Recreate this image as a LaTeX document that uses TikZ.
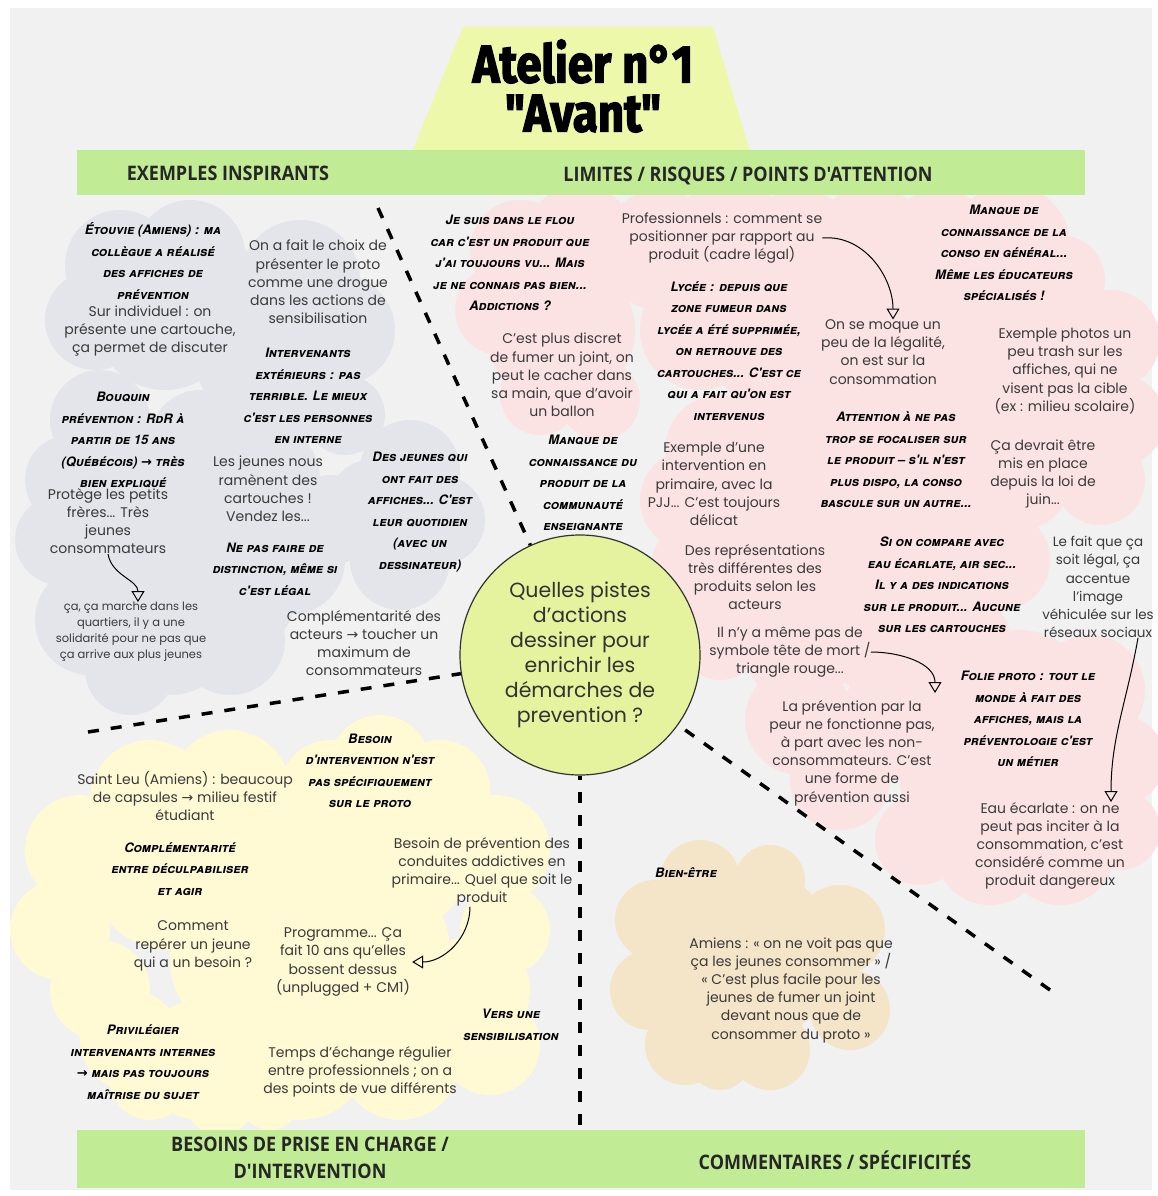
\documentclass[tikz,border=0pt]{standalone}
\usepackage{fontspec}
\setmainfont{Poppins}
\newfontfamily\handfont{TeX Gyre Heros}
\newfontfamily\bannerfont{Open Sans}[FakeStretch=0.9]
\newfontfamily\titlefont{Fira Sans}[FakeStretch=0.86,BoldFeatures={FakeBold=2.5}]
\newfontfamily\symfont{DejaVu Sans}
\newcommand{\rarr}{{\symfont\char"2192}}
\usetikzlibrary{arrows.meta}
\definecolor{pagegray}{HTML}{F1F1F1}
\definecolor{graycloud}{HTML}{E3E5EA}
\definecolor{pinkcloud}{HTML}{FCE3E3}
\definecolor{yellowcloud}{HTML}{FFF9D4}
\definecolor{beigecloud}{HTML}{F4E5C8}
\definecolor{bannergreen}{HTML}{C1EB95}
\definecolor{titleyellow}{HTML}{EEF8AA}
\definecolor{hubyellow}{HTML}{E6F39E}
\definecolor{notetext}{HTML}{3A3A3A}
\tikzset{
  note/.style={align=center, inner sep=0pt, text=notetext, font=\fontsize{14}{18.2}\selectfont},
  smallnote/.style={note, font=\fontsize{11.5}{16}\selectfont},
  handnote/.style={align=center, inner sep=0pt, text=black, font=\handfont\bfseries\itshape\scshape\fontsize{13}{21.5}\selectfont},
  bannertext/.style={align=center, inner sep=0pt, text=black!85, font=\bannerfont\bfseries\fontsize{20}{27}\selectfont},
  curvearrow/.style={-{Triangle[open,length=11pt,width=13pt]}, line width=1pt},
  divider/.style={line width=3.5pt, dash pattern=on 11pt off 12pt},
}
\begin{document}
\begin{tikzpicture}[x=1pt,y=-1pt]
  \useasboundingbox (0,0) rectangle (1158,1196);
  \fill[white] (0,0) rectangle (1158,1196);
  \fill[pagegray] (10,8) rectangle (1152,1190);% board
  % clouds
  \fill[graycloud] (120,265) circle (55) (190,255) circle (55) (95,320) circle (50) (165,320) circle (70) (240,300) circle (50)
    (300,280) circle (60) (340,330) circle (55) (300,380) circle (60) (250,360) circle (55) (345,415) circle (40)
    (100,420) circle (50) (70,480) circle (45) (130,480) circle (70) (200,440) circle (50) (60,540) circle (45) (140,560) circle (70)
    (260,480) circle (60) (220,540) circle (60) (290,560) circle (55) (330,520) circle (45)
    (410,470) circle (50) (440,520) circle (45) (400,560) circle (50) (370,500) circle (40)
    (90,620) circle (55) (170,630) circle (65) (230,640) circle (55) (130,670) circle (45) (250,600) circle (45);
  \fill[pinkcloud] (520,250) circle (50) (580,240) circle (55) (500,310) circle (45) (560,330) circle (75) (600,400) circle (40) (540,395) circle (40)
    (660,250) circle (60) (730,240) circle (60) (800,250) circle (60) (870,240) circle (55) (940,250) circle (60) (1010,245) circle (60) (1060,280) circle (45)
    (700,330) circle (60) (790,340) circle (80) (880,330) circle (70) (960,320) circle (70) (1040,340) circle (60) (1110,340) circle (50)
    (1120,420) circle (45) (1060,430) circle (70) (980,430) circle (70) (900,440) circle (70) (800,430) circle (60) (720,450) circle (55)
    (690,500) circle (50) (760,510) circle (50) (850,500) circle (60) (940,490) circle (60) (1020,480) circle (50) (1100,480) circle (45)
    (700,570) circle (50) (760,590) circle (60) (840,580) circle (60) (930,580) circle (70) (1000,560) circle (50)
    (720,640) circle (40) (800,650) circle (55) (880,640) circle (55) (960,640) circle (50)
    (800,720) circle (55) (840,780) circle (50) (900,720) circle (60) (950,690) circle (55) (1020,700) circle (70) (1090,690) circle (55)
    (1120,760) circle (45) (1060,780) circle (70) (960,780) circle (60) (920,840) circle (45) (990,850) circle (55) (1060,850) circle (55) (1120,830) circle (40);
  \fill[yellowcloud] (380,765) circle (50) (330,790) circle (50) (440,790) circle (50) (150,800) circle (60) (230,790) circle (60)
    (80,850) circle (55) (60,930) circle (50) (100,990) circle (50) (170,870) circle (80) (280,860) circle (80) (400,860) circle (70)
    (495,850) circle (55) (505,930) circle (45) (475,990) circle (55) (370,950) circle (80) (250,960) circle (80)
    (130,1040) circle (50) (200,1060) circle (60) (300,1050) circle (70) (400,1060) circle (60) (490,1045) circle (50)
    (150,1080) circle (40) (220,1100) circle (35) (270,1100) circle (30);
  \fill[beigecloud] (700,880) circle (40) (770,880) circle (35) (655,920) circle (40) (840,930) circle (45) (745,955) circle (90)
    (650,990) circle (40) (850,1010) circle (40) (685,1045) circle (40) (770,1050) circle (40) (720,1060) circle (30);
  % title and banners
  \fill[titleyellow] (463,27) -- (713,27) -- (750,152) -- (412,152) -- cycle;
  \node[align=center, inner sep=0pt, font=\titlefont\bfseries\fontsize{53}{49}\selectfont] (title) at (583,86) {Atelier n°1\\"Avant"};
  \fill[bannergreen] (77,150) rectangle (1085,195);% top banner
  \fill[bannergreen] (77,1130) rectangle (1085,1188);% bottom banner
  \node[bannertext] (exemples) at (228,173) {EXEMPLES INSPIRANTS};
  \node[bannertext] (limites) at (748,176) {LIMITES / RISQUES / POINTS D'ATTENTION};
  \node[bannertext] (besoins) at (310,1158) {BESOINS DE PRISE EN CHARGE /\\D'INTERVENTION};
  \node[bannertext] (commentaires) at (835,1160) {COMMENTAIRES / SPÉCIFICITÉS};
  % centre
  \node[circle, draw=black!80, line width=1.2pt, fill=hubyellow, minimum size=240pt, inner sep=0pt, align=center,
    text=black!80, font=\fontsize{20.5}{25}\selectfont] (hub) at (580,655)
    {Quelles pistes\\d'actions\\dessiner pour\\enrichir les\\démarches de\\prevention ?};
  \coordinate (topend) at (378,208);
  \coordinate (leftend) at (88,732);
  \coordinate (bottomend) at (580,1125);
  \coordinate (rightend) at (1050,990);
  \draw[divider] (topend) -- (hub);
  \draw[divider] (leftend) -- (hub);
  \draw[divider] (bottomend) -- (hub);
  \draw[divider] (rightend) -- (hub);
  % exemples inspirants
  \node[handnote] (etouvie) at (153,261) {Étouvie (Amiens) : ma\\collègue a réalisé\\des affiches de\\prévention};
  \node[note] (individuel) at (150,331) {Sur individuel : on\\présente une cartouche,\\ça permet de discuter};
  \node[note] (choix) at (318,282) {On a fait le choix de\\présenter le proto\\comme une drogue\\dans les actions de\\sensibilisation};
  \node[handnote] (intervenants) at (308,396) {Intervenants\\extérieurs : pas\\terrible. Le mieux\\c'est les personnes\\en interne};
  \node[handnote] (bouquin) at (123,440) {Bouquin\\prévention : RdR à\\partir de 15 ans\\(Québécois) \rarr{} très\\bien expliqué};
  \node[note] (petits) at (108,521) {Protège les petits\\frères... Très\\jeunes\\consommateurs};
  \node[note] (ramenent) at (268,489) {Les jeunes nous\\ramènent des\\cartouches !\\Vendez les...};
  \node[handnote] (affiches) at (420,512) {Des jeunes qui\\ont fait des\\affiches... C'est\\leur quotidien\\(avec un\\dessinateur)};
  \node[handnote] (distinction) at (275,569) {Ne pas faire de\\distinction, même si\\c'est légal};
  \node[smallnote] (quartiers) at (131,632) {ça, ça marche dans les\\quartiers, il y a une\\solidarité pour ne pas que\\ça arrive aux plus jeunes};
  \node[note] (complementarite) at (364,643) {Complémentarité des\\acteurs \rarr{} toucher un\\maximum de\\consommateurs};
  \draw[curvearrow] (petits.south) to[out=-80,in=90] ([xshift=7pt]quartiers.north);
  % limites / risques
  \node[handnote] (flou) at (510,263) {Je suis dans le flou\\car c'est un produit que\\j'ai toujours vu... Mais\\je ne connais pas bien...\\Addictions ?};
  \node[note] (professionnels) at (722,238) {Professionnels : comment se\\positionner par rapport au\\produit (cadre légal)};
  \node[handnote] (lycee) at (729,351) {Lycée : depuis que\\zone fumeur dans\\lycée a été supprimée,\\on retrouve des\\cartouches... C'est ce\\qui a fait qu'on est\\intervenus};
  \node[note] (discret) at (562,375) {C'est plus discret\\de fumer un joint, on\\peut le cacher dans\\sa main, que d'avoir\\un ballon};
  \node[handnote] (manqueprod) at (583,483) {Manque de\\connaissance du\\produit de la\\communauté\\enseignante};
  \node[note] (primaire) at (714,484) {Exemple d'une\\intervention en\\primaire, avec la\\PJJ... C'est toujours\\délicat};
  \node[handnote] (manqueconso) at (1004,253) {Manque de\\connaissance de la\\conso en général...\\Même les éducateurs\\spécialisés !};
  \node[note] (legalite) at (883,352) {On se moque un\\peu de la légalité,\\on est sur la\\consommation};
  \node[note] (photos) at (1065,371) {Exemple photos un\\peu trash sur les\\affiches, qui ne\\visent pas la cible\\(ex : milieu scolaire)};
  \node[handnote] (focaliser) at (896,460) {Attention à ne pas\\trop se focaliser sur\\le produit – s'il n'est\\plus dispo, la conso\\bascule sur un autre...};
  \node[note] (loi) at (1043,474) {Ça devrait être\\mis en place\\depuis la loi de\\juin...};
  \node[note] (representations) at (755,577) {Des représentations\\très différentes des\\produits selon les\\acteurs};
  \node[handnote] (compare) at (942,585) {Si on compare avec\\eau écarlate, air sec...\\Il y a des indications\\sur le produit... Aucune\\sur les cartouches};
  \node[note, font=\fontsize{13.5}{18.2}\selectfont] (legal) at (1098,587) {Le fait que ça\\soit légal, ça\\accentue\\l'image\\véhiculée sur les\\réseaux sociaux};
  \node[note] (symbole) at (790,652) {Il n'y a même pas de\\symbole tête de mort /\\triangle rouge...};
  \node[note] (peur) at (852,753) {La prévention par la\\peur ne fonctionne pas,\\à part avec les non-\\consommateurs. C'est\\une forme de\\prévention aussi};
  \node[handnote] (folie) at (1028,719) {Folie proto : tout le\\monde à fait des\\affiches, mais la\\préventologie c'est\\un métier};
  \node[note] (eau) at (1050,846) {Eau écarlate : on ne\\peut pas inciter à la\\consommation, c'est\\considéré comme un\\produit dangereux};
  \coordinate (symboletip) at (935,693);
  \draw[curvearrow] (professionnels.east) to[out=5,in=90] ([xshift=10pt]legalite.north);
  \draw[curvearrow] (symbole.east) to[out=0,in=90] (symboletip);
  \draw[curvearrow] ([xshift=40pt]legal.south) to[out=-100,in=90] ([xshift=61pt]eau.north);
  % besoins de prise en charge
  \node[handnote] (besoin) at (370,771) {Besoin\\d'intervention n'est\\pas spécifiquement\\sur le proto};
  \node[note] (saintleu) at (185,796) {Saint Leu (Amiens) : beaucoup\\de capsules \rarr{} milieu festif\\étudiant};
  \node[handnote] (deculp) at (180,869) {Complémentarité\\entre déculpabiliser\\et agir};
  \node[note] (besoinprev) at (482,872) {Besoin de prévention des\\conduites addictives en\\primaire... Quel que soit le\\produit};
  \node[note] (reperer) at (193,946) {Comment\\repérer un jeune\\qui a un besoin ?};
  \node[note] (programme) at (343,962) {Programme... Ça\\fait 10 ans qu'elles\\bossent dessus\\(unplugged + CM1)};
  \node[handnote] (sensib) at (511,1025) {Vers une\\sensibilisation};
  \node[handnote] (privilegier) at (143,1062) {Privilégier\\intervenants internes\\\rarr{} mais pas toujours\\maîtrise du sujet};
  \node[note] (echange) at (360,1072) {Temps d'échange régulier\\entre professionnels ; on a\\des points de vue différents};
  \draw[curvearrow] ([xshift=-12pt]besoinprev.south) to[out=-90,in=0] ([xshift=2pt]programme.east);
  % commentaires
  \node[handnote] (bienetre) at (686,873) {Bien-être};
  \node[note] (amiens) at (791,990) {Amiens : « on ne voit pas que\\ça les jeunes consommer » /\\« C'est plus facile pour les\\jeunes de fumer un joint\\devant nous que de\\consommer du proto »};
\end{tikzpicture}
\end{document}
